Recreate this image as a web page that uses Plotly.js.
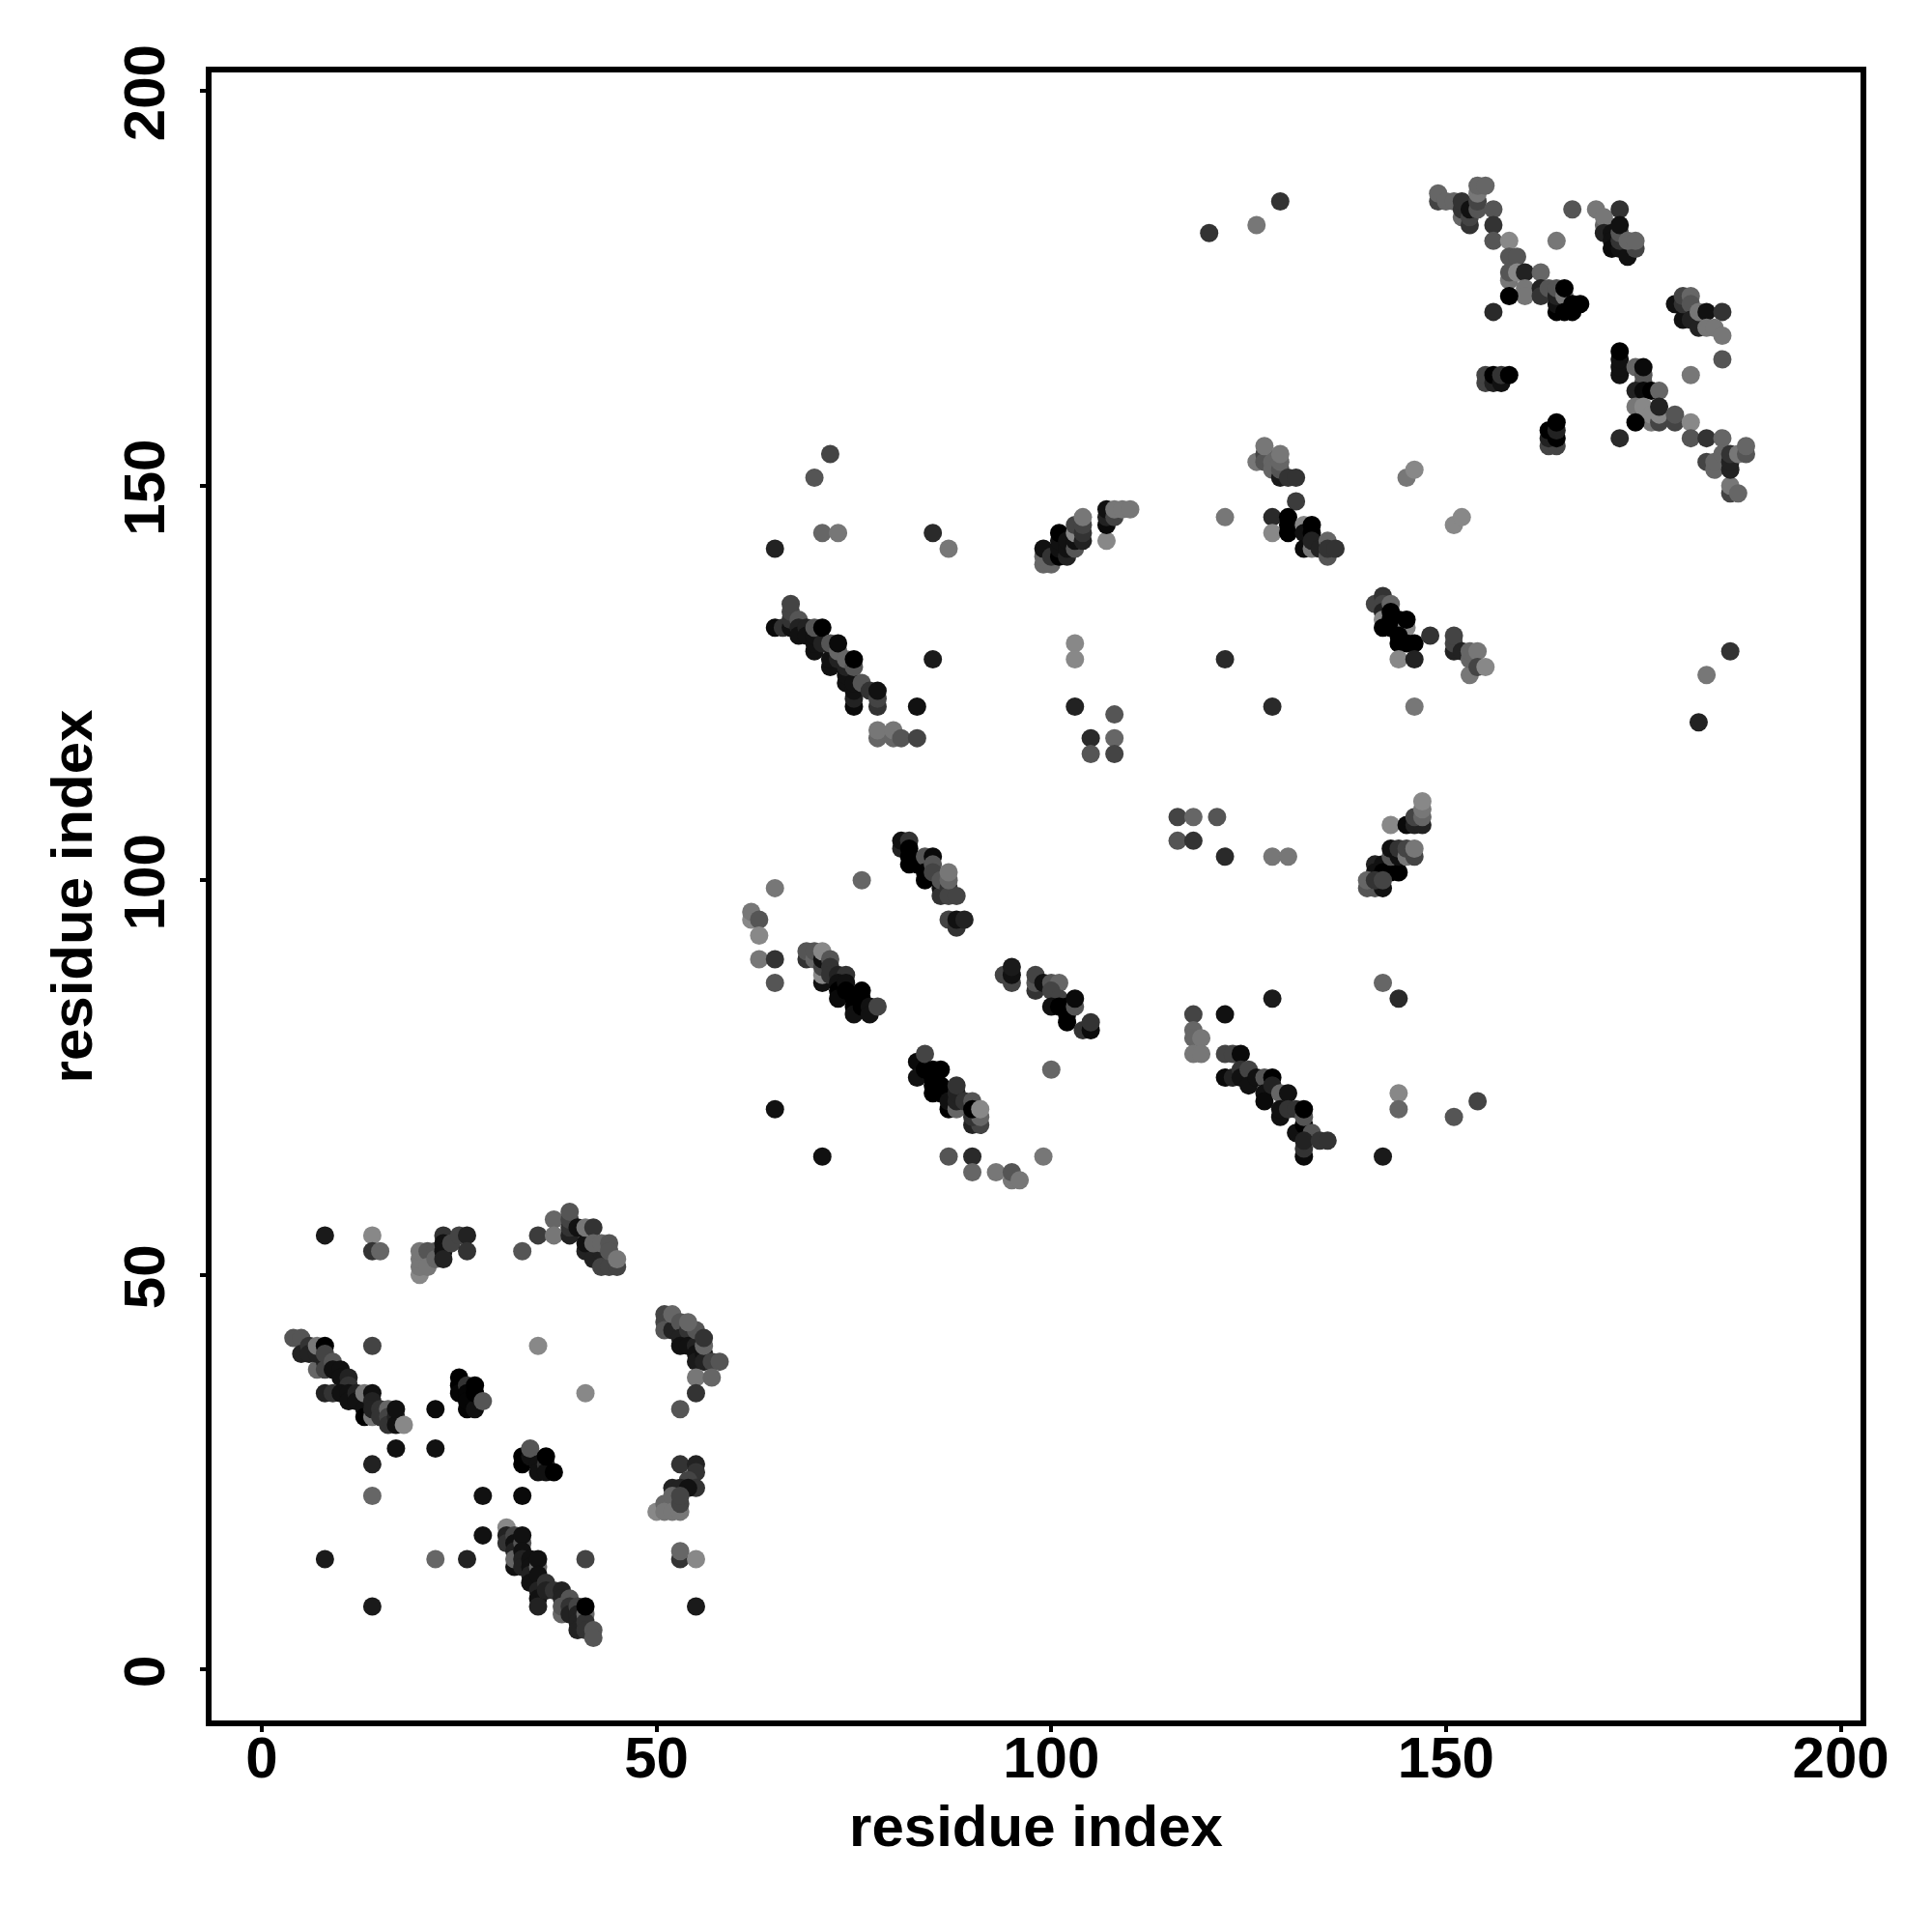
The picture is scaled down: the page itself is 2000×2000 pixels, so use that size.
<!DOCTYPE html>
<html><head><meta charset="utf-8">
<script src="https://cdn.plot.ly/plotly-3.0.1.min.js"></script>
<style>html,body{margin:0;padding:0;background:#fff}</style></head>
<body><div id="chart" style="width:2000px;height:2000px"></div>
<script>
const tickValues = [0, 50, 100, 150, 200];
const axisLabel = "residue index";

const residueX = [
8,14,14,15,14,35,41,22,17,22,14,14,28,33,28,8,22,26,41,14,55,53,53,55,
20,20,20,20,21,21,22,22,23,23,23,23,24,25,26,26,
33,35,37,37,39,39,39,39,40,41,41,42,43,43,44,45,41,42,42,43,44,44,45,
4,5,5,6,6,7,7,7,8,8,8,8,9,9,10,10,11,11,8,9,10,11,11,12,12,13,13,14,13,14,14,14,15,15,16,16,16,17,17,17,18,
25,25,25,26,26,26,26,27,27,27,28,
33,33,34,34,35,35,36,36,36,37,
31,31,31,32,32,32,32,32,33,33,33,33,33,34,34,34,34,35,35,35,35,35,35,36,36,37,38,38,38,38,39,39,39,40,40,40,40,41,41,41,41,42,42,
51,51,51,52,52,53,53,54,53,54,55,55,54,55,55,56,56,56,56,57,58,55,57,55,53,
53,55,55,54,55,52,53,54,50,51,51,52,52,53,53,53,
65,62,62,63,63,63,65,65,76,
69,69,70,70,71,71,71,71,71,72,72,72,73,74,73,73,73,74,74,75,75,75,76,76,76,77,77,78,
81,81,82,82,82,82,83,84,85,84,84,85,85,86,86,86,87,87,88,87,87,87,88,88,89,
94,95,95,95,98,98,98,99,100,101,100,101,100,101,102,102,102,103,103,104,105,105,
83,83,84,84,85,86,85,85,85,86,86,87,87,88,88,88,88,89,90,90,91,90,91,90,91,
65,71,87,90,90,93,95,95,96,99,100,
118,122,118,118,119,118,119,
116,118,121,116,118,122,128,130,
143,145,146,147,146,147,147,147,141,142,141,142,143,144,140,141,142,140,141,142,143,143,144,144,145,145,146,146,
142,144,128,142,144,144,151,154,
122,123,124,122,123,124,124,125,125,126,127,128,127,127,128,129,130,129,129,130,131,131,132,132,132,133,132,132,132,134,135,
72,70,71,73,65,85,87,
65,66,67,67,67,67,68,68,68,69,69,70,70,70,70,71,71,72,72,72,73,73,73,74,74,74,74,75,75,75,75,75,75,76,77,78,78,78,
85,83,78,78,80,80,81,83,
99,99,99,100,100,101,101,101,101,102,102,102,103,103,103,103,104,104,104,104,
107,107,107,107,108,108,109,110,
122,103,103,122,103,108,105,108,105,108,128,146,
126,127,127,128,128,129,129,129,129,127,130,131,
131,128,128,130,130,130,132,132,133,133,132,133,133,134,135,135,135,136,
145,146,151,152,
141,142,142,142,142,142,143,143,143,143,144,145,145,144,144,145,146,148,144,146,
151,151,151,152,153,153,153,154,154,155,
183,186,182,120,126,129,
149,149,150,151,152,152,152,153,153,153,154,154,154,154,155,156,156,156,158,158,159,158,158,159,160,162,160,160,158,156,
162,162,163,164,164,164,164,165,165,165,166,166,167,
166,164,169,170,170,170,171,172,171,171,172,173,172,172,172,174,173,174,
179,180,180,180,181,181,181,182,182,183,185,183,184,185,185,181,
172,172,172,172,174,175,175,175,174,175,176,177,
174,175,176,176,177,177,177,179,179,181,174,172,181,183,185,183,184,184,185,186,186,186,186,186,187,187,188,188,
155,155,156,156,157,157,158,
163,164,163,164,163,164,164
];
const residueY = [
55,55,53,53,41,41,35,33,28,28,26,22,22,22,17,14,14,14,14,8,8,14,15,14,
50,51,52,53,53,51,53,52,55,54,53,52,54,55,55,53,
53,55,57,55,55,56,57,58,56,53,54,52,53,51,51,51,56,56,54,54,54,53,52,
42,42,40,41,40,38,40,41,41,39,40,38,39,38,38,37,37,36,35,35,35,35,34,35,34,33,32,32,35,35,34,33,33,32,33,32,31,32,31,33,31,
37,36,35,36,35,33,34,36,33,35,34,
27,26,27,28,26,25,26,25,27,25,
18,17,16,17,16,15,13,14,16,17,15,14,13,14,13,12,11,13,14,12,10,9,8,11,10,10,10,9,7,8,9,8,7,8,7,6,5,7,6,5,8,5,4,
45,44,43,43,45,44,42,43,41,41,41,43,44,40,39,40,39,41,42,39,39,37,37,35,33,
26,26,25,24,23,23,23,23,20,21,20,22,20,20,21,22,
99,95,96,95,93,90,90,87,100,
90,91,90,91,87,88,89,90,91,90,89,88,88,88,87,86,85,87,86,85,84,83,86,85,84,84,83,84,
104,105,105,104,103,102,102,103,103,101,100,102,101,99,98,100,99,98,98,100,101,95,94,95,95,
88,87,88,89,86,87,88,87,87,87,86,85,84,84,84,83,82,84,85,81,81,82,
77,75,76,78,76,76,75,74,73,74,73,71,72,71,72,73,74,72,72,69,69,70,70,71,71,
71,65,65,65,63,63,62,63,62,65,76,
83,83,81,80,80,78,78,
108,108,108,105,105,103,103,103,
107,107,107,107,108,108,109,110,102,102,101,101,101,101,99,99,99,100,100,100,103,104,103,104,103,104,103,104,
87,85,85,65,73,71,70,72,
78,78,78,75,75,76,75,76,74,75,75,75,73,72,74,73,73,70,71,71,71,68,69,70,71,68,65,66,67,67,67,
154,151,144,144,142,144,142,
132,132,132,133,134,135,133,132,131,132,131,129,130,131,132,130,132,127,128,130,128,129,130,125,126,127,128,122,123,124,125,127,128,125,124,122,123,124,
128,122,118,119,118,119,118,118,
140,141,142,140,141,141,142,143,144,141,142,143,142,143,144,145,143,144,145,146,
143,145,146,147,146,147,147,147,
146,130,128,128,122,121,118,118,116,116,122,122,
153,154,153,153,152,151,152,153,154,155,151,151,
148,146,144,144,145,146,145,144,144,145,142,142,143,142,141,143,142,142,
151,152,145,146,
135,136,135,134,133,132,135,134,133,132,133,132,133,131,130,130,130,131,128,128,
129,130,131,129,126,128,129,129,127,127,
126,129,120,182,183,186,
186,187,186,186,184,185,186,183,184,185,185,186,187,188,188,185,183,181,181,179,179,176,177,177,177,177,175,174,174,172,
175,174,175,172,173,174,175,174,175,172,172,173,173,
185,181,185,183,184,182,182,185,181,180,180,179,181,182,183,180,181,181,
173,171,173,174,174,173,171,170,172,172,172,170,170,169,166,164,
164,165,166,167,165,163,164,165,162,162,162,162,
160,160,158,159,158,159,160,158,159,158,158,156,156,156,156,153,152,153,154,149,150,152,153,154,149,154,154,155,
163,164,163,164,163,164,164,
155,155,156,156,157,157,158
];
const shade = [
26,136,51,102,68,136,136,10,17,17,34,102,17,10,17,26,102,34,68,26,26,51,102,136,
136,119,119,119,85,119,85,102,51,17,17,34,68,68,34,51,
85,60,102,119,34,51,68,85,17,34,17,34,34,68,68,68,119,51,102,102,85,85,119,
85,85,34,51,34,102,34,119,0,34,68,68,85,17,17,17,34,51,34,51,17,17,17,34,17,17,0,119,119,17,34,34,51,51,102,68,51,34,17,17,136,
0,0,5,51,5,5,5,0,17,0,85,
0,0,17,85,17,17,51,17,0,0,
136,34,51,68,17,34,17,102,85,17,17,34,34,17,17,34,17,102,17,17,34,17,34,51,34,51,34,34,102,85,85,51,34,68,34,34,34,102,51,51,0,85,85,
68,68,85,34,102,85,34,51,17,17,34,85,102,17,26,17,34,102,51,68,85,119,102,51,85,
51,34,51,68,51,34,34,17,136,102,119,102,119,119,68,68,
119,136,119,85,136,119,51,85,102,
51,85,102,85,17,136,68,17,136,85,51,51,34,51,17,0,10,17,0,0,0,17,0,0,0,17,17,68,
34,17,51,0,0,0,0,85,10,0,0,85,68,17,51,85,51,68,68,102,119,68,51,17,34,
68,68,17,26,51,85,68,17,85,102,68,68,17,0,0,0,0,85,10,51,10,51,
10,17,0,68,0,0,0,0,0,0,0,0,17,102,34,34,51,51,85,34,68,51,102,0,136,
17,17,85,42,102,119,119,85,119,119,102,
68,17,102,102,119,119,119,
68,102,85,85,51,42,119,119,
136,10,34,34,68,102,119,136,34,17,17,0,0,0,85,85,17,102,51,68,85,17,17,51,119,68,68,119,
102,42,26,26,136,102,85,68,
68,68,10,10,34,51,17,68,17,17,85,0,17,10,34,102,17,17,17,51,51,17,0,85,0,85,10,51,34,51,51,
68,85,102,119,34,42,119,
10,51,17,51,68,68,85,34,17,34,17,17,17,17,85,34,0,17,17,85,34,102,10,17,17,34,102,10,34,17,17,85,0,85,51,51,68,17,
26,17,102,119,102,119,85,68,
102,102,17,102,51,0,17,17,0,34,17,17,85,17,136,68,34,51,68,119,
136,10,34,17,68,119,119,119,
119,136,136,42,34,85,42,102,85,68,42,119,
119,68,85,102,102,26,85,102,119,119,51,51,
60,42,136,0,0,0,136,17,0,0,10,119,34,34,85,102,51,51,
119,136,136,136,
68,51,68,34,136,0,102,0,0,0,0,136,0,0,0,0,0,51,136,34,
34,68,68,34,119,102,102,119,68,136,
119,51,34,51,119,51,
68,102,102,102,102,51,51,51,68,17,85,68,119,102,102,85,51,85,136,85,85,119,85,136,34,102,119,119,0,42,
34,51,85,0,17,34,85,119,0,0,0,0,0,
85,119,119,102,119,34,17,51,17,10,17,17,51,85,17,68,102,102,
17,17,51,68,102,85,34,34,119,17,51,119,119,119,85,119,
17,17,17,0,102,85,85,10,34,10,0,102,
119,136,119,136,68,136,34,68,85,136,0,42,85,51,102,68,102,102,102,68,119,34,34,51,102,119,85,102,
68,68,34,0,17,51,0,
68,68,34,0,0,34,0
];
if (residueX.length !== residueY.length || residueX.length !== shade.length) {
  throw new Error("lengths " + residueX.length + " " + residueY.length + " " + shade.length);
}

const labelFont = {family: '"Liberation Sans", Arial, sans-serif', size: 60, color: '#000', weight: 700};

const trace = {
  type: 'scatter', mode: 'markers', x: residueX, y: residueY,
  marker: {size: 19, color: shade.map(g => `rgb(${g},${g},${g})`), line: {width: 0}},
  hoverinfo: 'x+y', cliponaxis: false
};
const axisBase = {
  tickmode: 'array', tickvals: tickValues, ticktext: tickValues.map(String),
  showgrid: false, zeroline: false, showline: true, mirror: true,
  linecolor: '#000', linewidth: 6, ticks: 'outside', ticklen: 6, tickwidth: 4, tickcolor: '#000',
  tickfont: labelFont, automargin: false
};
const layout = {
  width: 2000, height: 2000, showlegend: false,
  paper_bgcolor: '#fff', plot_bgcolor: '#fff',
  margin: {l: 219, r: 74.3, t: 75, b: 219, pad: 0},
  xaxis: Object.assign({}, axisBase, {
    range: [-6.36, 202.5], tickangle: 0, ticklabelstandoff: -25,
    title: {text: axisLabel, font: labelFont, standoff: 19}
  }),
  yaxis: Object.assign({}, axisBase, {
    range: [-6.45, 202.34], tickangle: -90, ticklabelstandoff: 13, ticklabelshift: 11,
    title: {text: axisLabel, font: labelFont, standoff: 3}
  })
};
Plotly.newPlot('chart', [trace], layout, {staticPlot: true, displayModeBar: false});
</script>
</body></html>
